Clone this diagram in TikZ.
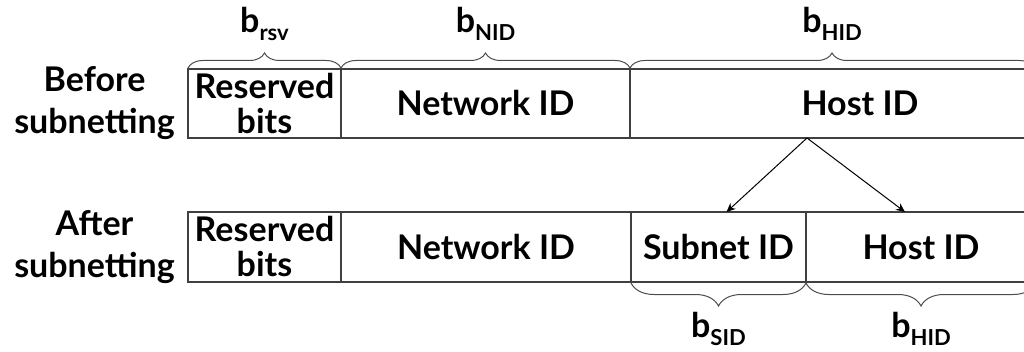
\documentclass[tikz,border=0pt]{standalone}
\usepackage{fontspec}
\setmainfont{Lato}
\usetikzlibrary{positioning,arrows.meta,decorations.pathreplacing}
\newcommand{\wlab}[1]{b\raisebox{-8pt}{\fontsize{22}{22}\selectfont #1}}

\begin{document}
\begin{tikzpicture}
  [x=1pt,y=1pt,
   every node/.style={font=\bfseries\fontsize{34}{35}\selectfont},
   field/.style={draw=black!75,line width=1.2pt,rectangle,inner sep=0pt,outer sep=0pt,align=center,anchor=north west},
   row/.style={align=center,inner sep=0pt,font=\bfseries\fontsize{34}{42}\selectfont},
   brc/.style={draw=black!70,line width=1pt,decorate,decoration={brace,amplitude=#1,raise=1pt}},
   up/.style={midway,anchor=base,yshift=36pt},
   down/.style={midway,anchor=base,yshift=-55pt}]
  \useasboundingbox (0,0) rectangle (1024,351);

  \node[field,minimum width=153pt,minimum height=69pt] (rsv1) at (188,282) {Reserved\\bits};
  \node[field,minimum width=289pt,minimum height=69pt,right=0pt of rsv1] (nid1) {Network ID};
  \node[field,minimum width=460pt,minimum height=69pt,right=0pt of nid1] (hid1) {Host ID};

  \node[field,minimum width=153pt,minimum height=70pt] (rsv2) at (188,139) {Reserved\\bits};
  \node[field,minimum width=290pt,minimum height=70pt,right=0pt of rsv2] (nid2) {Network ID};
  \node[field,minimum width=175pt,minimum height=70pt,right=0pt of nid2] (sid2) {Subnet ID};
  \node[field,minimum width=230pt,minimum height=70pt,right=0pt of sid2] (hid2) {Host ID};

  \node[row,left=13pt of rsv1] (before) {Before\\subnetting};
  \node[row,left=13pt of rsv2] (after) {After\\subnetting};

  \coordinate (hidend) at (1034,282);
  \coordinate (fork) at (807,213);

  \draw[brc=15pt] (rsv1.north west) -- (rsv1.north east) node[up] {\wlab{rsv}};
  \draw[brc=15pt] (nid1.north west) -- (nid1.north east) node[up] {\wlab{NID}};
  \draw[brc=15pt] (hid1.north west) -- (hidend) node[up] {\wlab{HID}};
  \draw[brc=23pt] (sid2.south east) -- (sid2.south west) node[down] {\wlab{SID}};
  \draw[brc=23pt] (hid2.south east) -- (hid2.south west) node[down] {\wlab{HID}};

  \foreach \to/\dx in {sid2/8,hid2/-16}
    \draw[line width=1pt,-{Stealth[length=9pt,width=8pt]}] (fork) -- ([xshift=\dx pt]\to.north);

\end{tikzpicture}
\end{document}
